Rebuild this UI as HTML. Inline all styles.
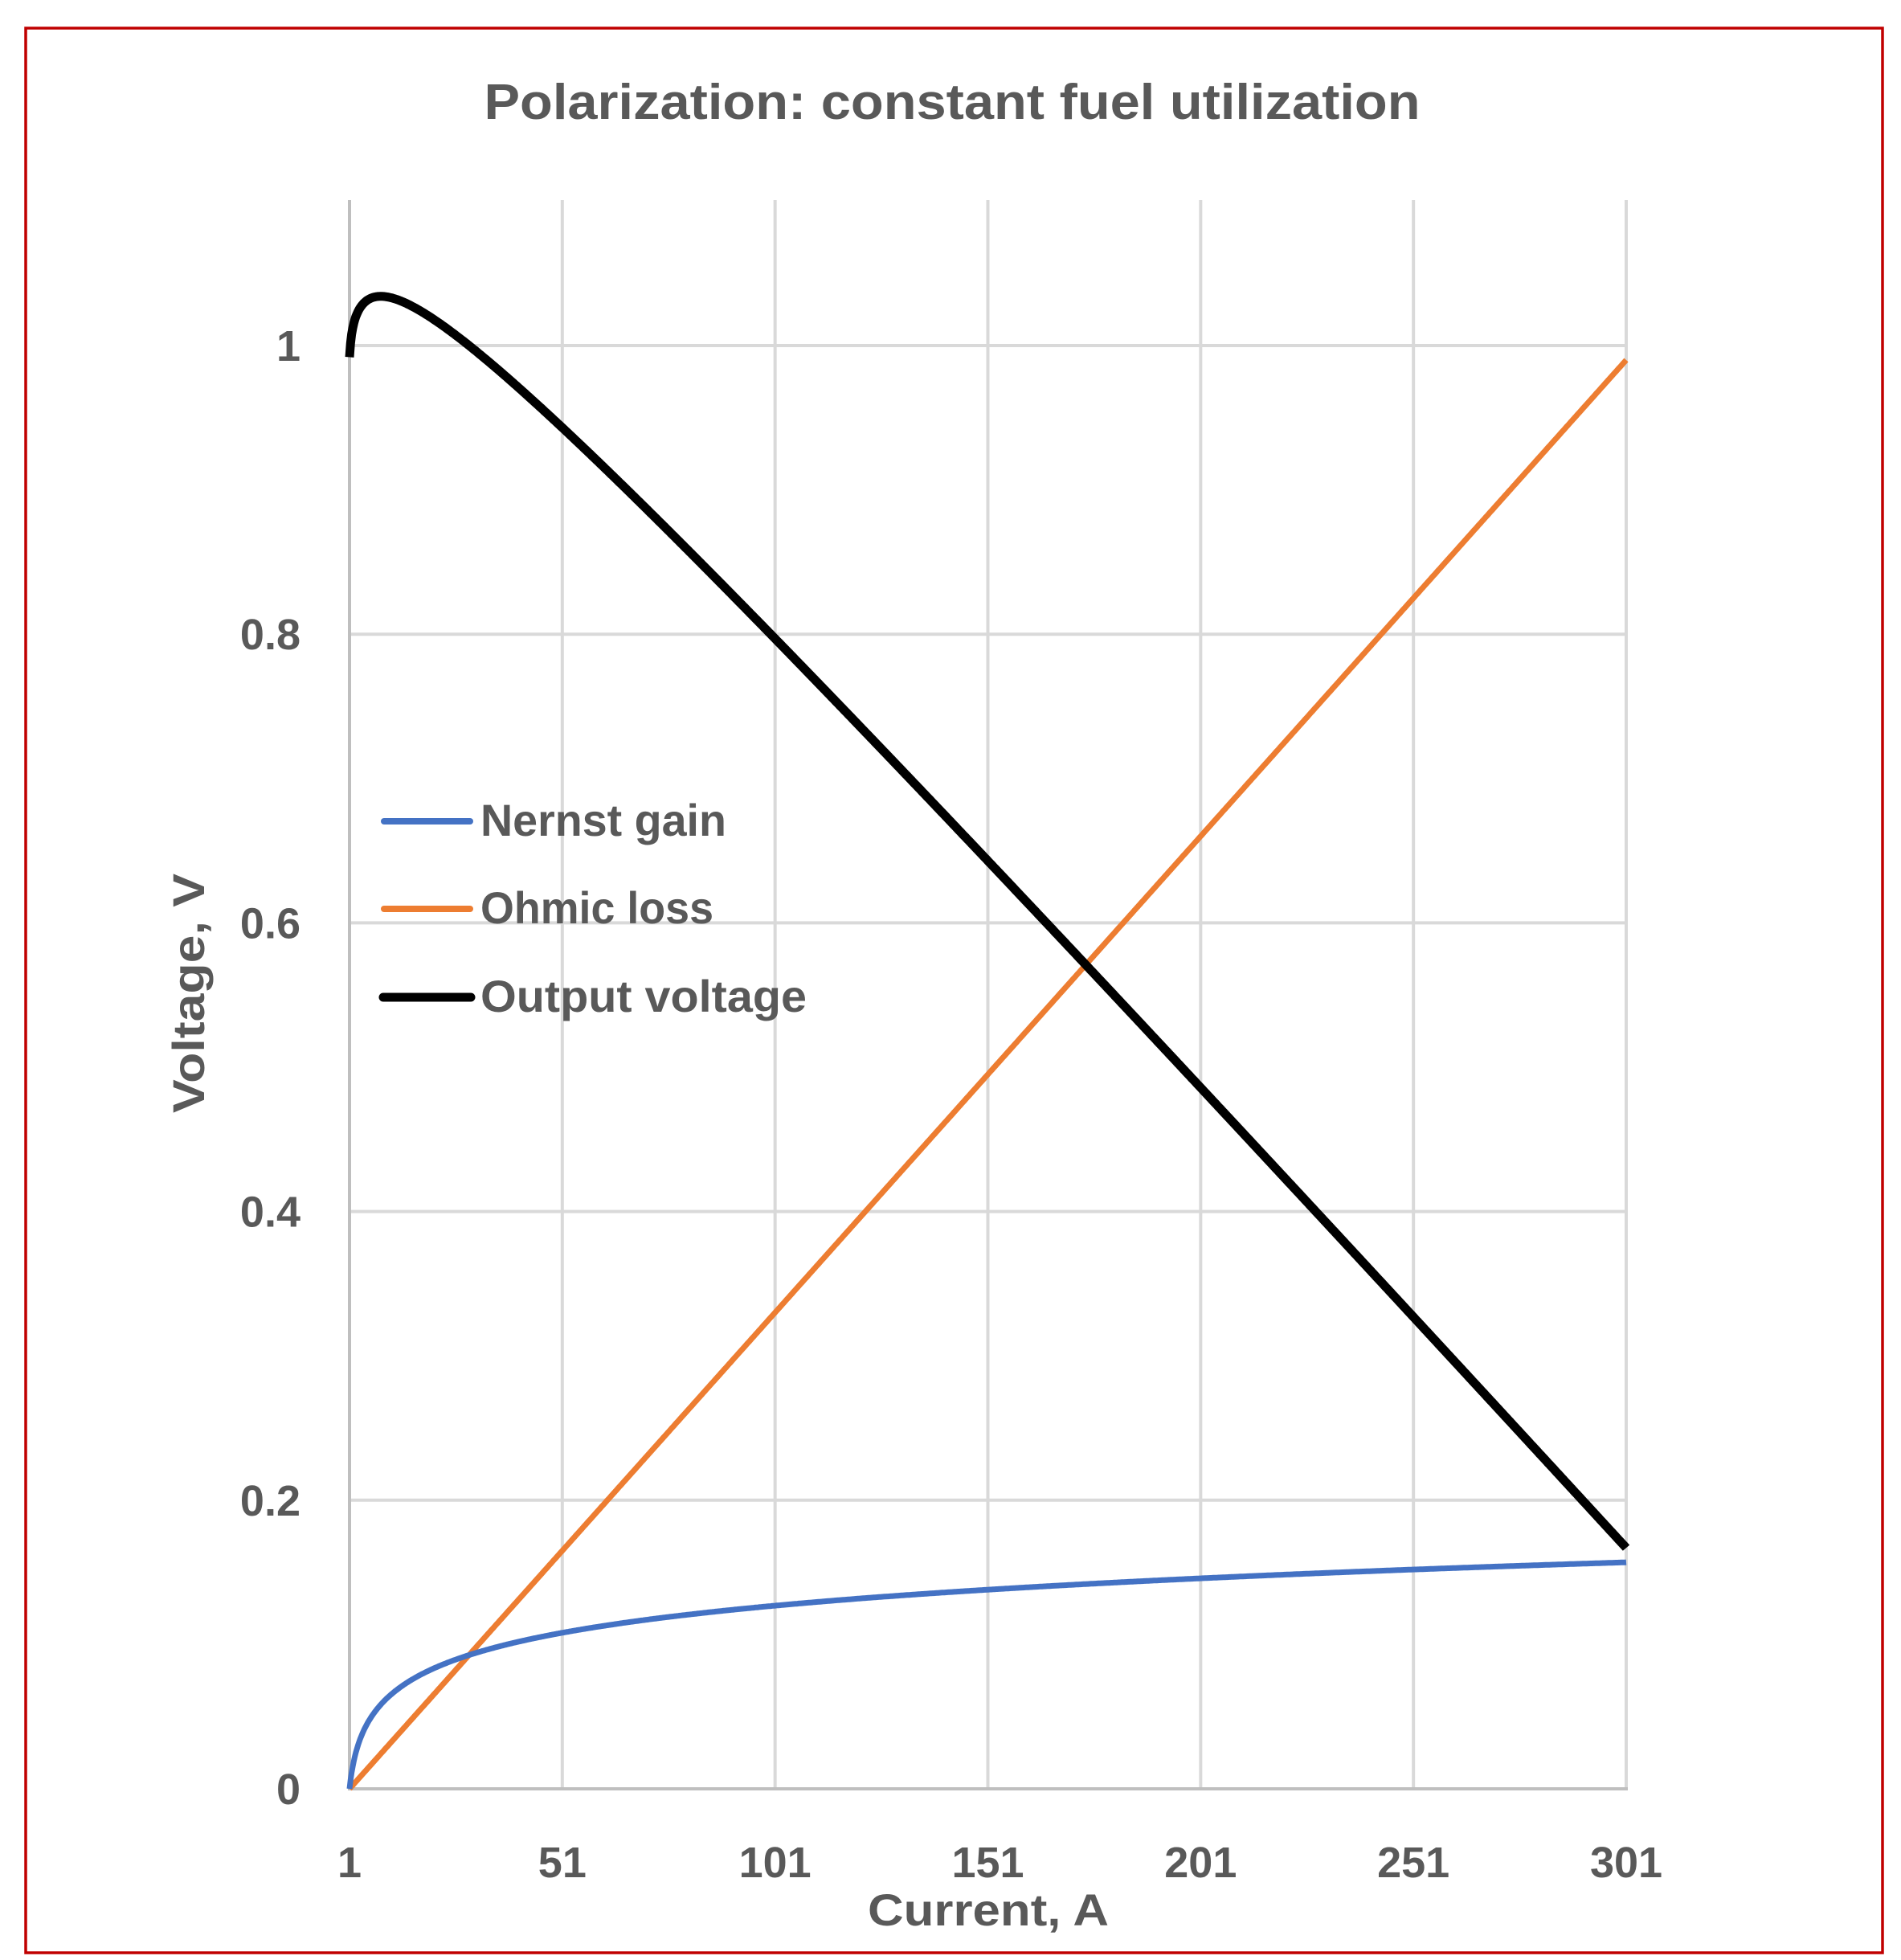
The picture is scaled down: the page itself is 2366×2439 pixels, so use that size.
<!DOCTYPE html>
<html><head><meta charset="utf-8"><style>
html,body{margin:0;padding:0;background:#fff;}
svg{display:block;}
text{font-family:"Liberation Sans",sans-serif;font-weight:bold;fill:#595959;}
</style></head><body>
<svg id="s" width="2366" height="2439" viewBox="0 0 2366 2439" xmlns="http://www.w3.org/2000/svg">
<rect x="0" y="0" width="2366" height="2439" fill="#fff"/>
<rect x="32" y="35" width="2311" height="2395" fill="none" stroke="#c00000" stroke-width="3.5"/>
<text x="1185" y="148" font-size="62" text-anchor="middle" textLength="1165" lengthAdjust="spacingAndGlyphs">Polarization: constant fuel utilization</text>
<g id="grid" stroke="#d9d9d9" stroke-width="4"></g>
<line x1="435" y1="249" x2="435" y2="2228" stroke="#bfbfbf" stroke-width="4"/>
<line x1="433" y1="2226" x2="2026" y2="2226" stroke="#bfbfbf" stroke-width="4"/>
<g id="ylab" font-size="54" text-anchor="end"></g>
<g id="xlab" font-size="54" text-anchor="middle"></g>
<text x="1230" y="2396" font-size="56" text-anchor="middle" textLength="300" lengthAdjust="spacingAndGlyphs">Current, A</text>
<text transform="translate(254,1236) rotate(-90)" x="0" y="0" font-size="56" text-anchor="middle" textLength="298" lengthAdjust="spacingAndGlyphs">Voltage, V</text>
<path id="pO" fill="none" stroke="#ed7d31" stroke-width="7"/>
<path id="pN" fill="none" stroke="#4472c4" stroke-width="7"/>
<path id="pV" fill="none" stroke="#000" stroke-width="11" stroke-linejoin="round"/>
<line x1="478" y1="1022" x2="585" y2="1022" stroke="#4472c4" stroke-width="8" stroke-linecap="round"/>
<line x1="478" y1="1131" x2="585" y2="1131" stroke="#ed7d31" stroke-width="8" stroke-linecap="round"/>
<line x1="477" y1="1241" x2="586" y2="1241" stroke="#000" stroke-width="11" stroke-linecap="round"/>
<text x="598" y="1040" font-size="56" textLength="306" lengthAdjust="spacingAndGlyphs">Nernst gain</text>
<text x="598" y="1149" font-size="56" textLength="290" lengthAdjust="spacingAndGlyphs">Ohmic loss</text>
<text x="598" y="1259" font-size="56" textLength="406" lengthAdjust="spacingAndGlyphs">Output voltage</text>
</svg>
<script>
(function(){
var NS="http://www.w3.org/2000/svg";
function X(i){return 435+(i-1)*(1589/300);}
function Y(v){return 2226-v*1796;}
var g=document.getElementById('grid');
for(var k=1;k<=6;k++){var l=document.createElementNS(NS,'line');var x=X(1+50*k);l.setAttribute('x1',x);l.setAttribute('x2',x);l.setAttribute('y1',249);l.setAttribute('y2',2226);g.appendChild(l);}
for(var k=1;k<=5;k++){var l=document.createElementNS(NS,'line');var y=Y(0.2*k);l.setAttribute('x1',435);l.setAttribute('x2',2024);l.setAttribute('y1',y);l.setAttribute('y2',y);g.appendChild(l);}
var yl=document.getElementById('ylab');var labs=['0','0.2','0.4','0.6','0.8','1'];
for(var k=0;k<6;k++){var t=document.createElementNS(NS,'text');t.setAttribute('x',374);t.setAttribute('y',Y(0.2*k)+19);t.textContent=labs[k];yl.appendChild(t);}
var xl=document.getElementById('xlab');
for(var k=0;k<=6;k++){var t=document.createElementNS(NS,'text');t.setAttribute('x',X(1+50*k));t.setAttribute('y',2336);t.textContent=String(1+50*k);xl.appendChild(t);}
var a=0.0275,r=0.0033;
var dN='',dO='',dV='';
for(var i=1;i<=301;i+=0.25){
 var n=a*Math.log(i),o=r*(i-1),v=1+n-o;
 var c=(i==1?'M':'L');
 dN+=c+X(i).toFixed(1)+' '+Y(n).toFixed(1);
 dO+=c+X(i).toFixed(1)+' '+Y(o).toFixed(1);
 dV+=c+X(i).toFixed(1)+' '+Y(v-0.008*Math.exp(-(i-1)*3)).toFixed(1);
}
document.getElementById('pN').setAttribute('d',dN);
document.getElementById('pO').setAttribute('d',dO);
document.getElementById('pV').setAttribute('d',dV);
})();
</script>
</body></html>
